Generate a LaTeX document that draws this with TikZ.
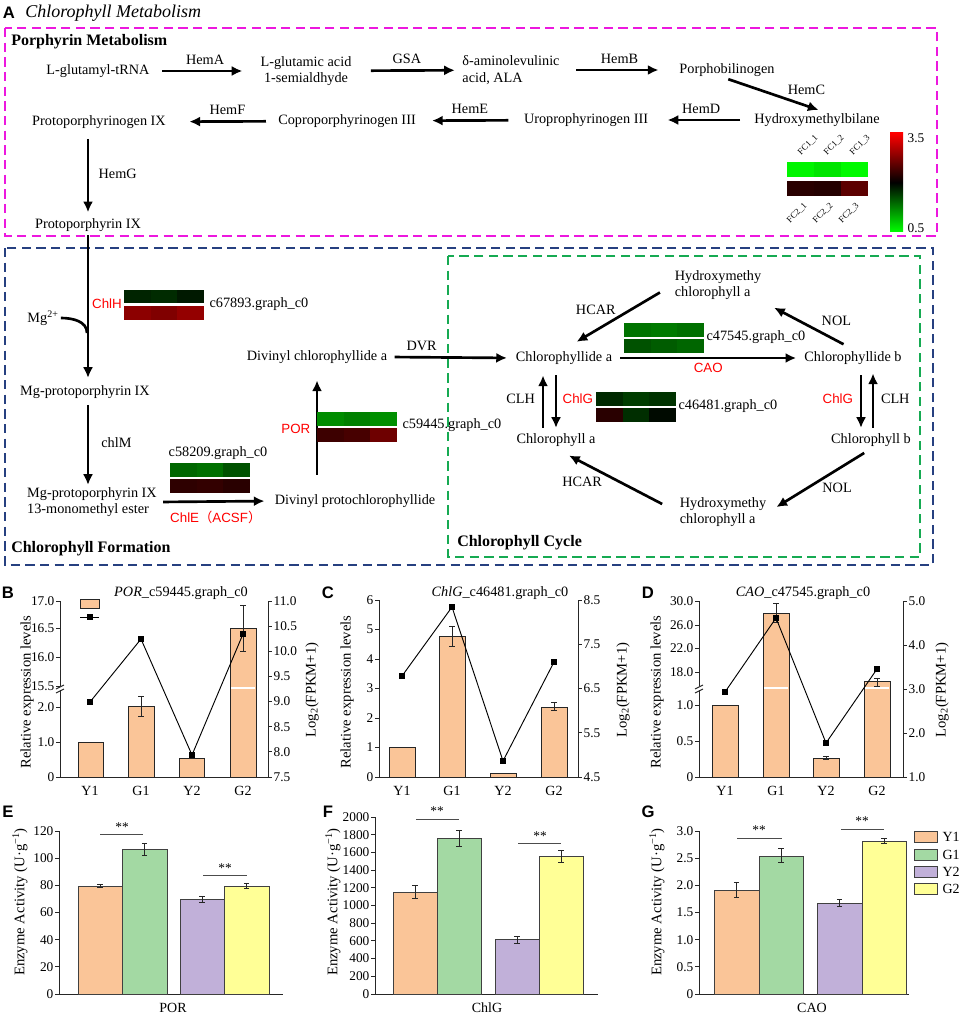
\documentclass[tikz,border=0pt]{standalone}
\usepackage{fontspec}
\setmainfont{Liberation Serif}
\setsansfont{Liberation Sans}
\newfontfamily\cjkfont{Noto Sans CJK SC}
\usepackage{tikz}
\usetikzlibrary{positioning,arrows.meta,calc}

\definecolor{porphyrinmagenta}{RGB}{236,24,222}
\definecolor{formationblue}{RGB}{38,64,128}
\definecolor{cyclegreen}{RGB}{22,170,82}
\definecolor{barorange}{RGB}{250,197,152}
\definecolor{bargreen}{RGB}{163,217,163}
\definecolor{barpurple}{RGB}{193,176,217}
\definecolor{baryellow}{RGB}{255,255,150}

\tikzset{
    compound/.style={font=\fontsize{10.7}{12.5}\selectfont, inner sep=1.5pt},
    enzyme/.style={font=\fontsize{10.7}{12.5}\selectfont, inner sep=1pt},
    red enzyme/.style={font=\sffamily\fontsize{10}{12}\selectfont, text=red, inner sep=1pt},
    gene id/.style={font=\fontsize{10.7}{12.5}\selectfont, inner sep=1pt},
    path arrow/.style={-{Latex[length=8pt,width=7.5pt]}, line width=2pt},
    region box/.style={line width=1.5pt, dash pattern=on 7pt off 4pt},
    region title/.style={font=\bfseries\fontsize{12}{14}\selectfont, anchor=west, inner sep=0pt},
    panel letter/.style={font=\sffamily\bfseries\fontsize{12.5}{14}\selectfont, inner sep=0pt},
    heat label/.style={font=\fontsize{6.6}{7}\selectfont, rotate=45, inner sep=0pt},
    axis line/.style={line width=0.7pt, black!85},
    tick num/.style={font=\fontsize{10}{12}\selectfont, inner sep=1pt},
    group name/.style={font=\fontsize{10.5}{12}\selectfont, inner sep=1pt},
    axis name/.style={font=\fontsize{11}{13}\selectfont, rotate=90, inner sep=0pt},
    chart title/.style={font=\fontsize{10.7}{12.5}\selectfont, inner sep=0pt},
    expr bar/.style={draw=black!85, fill=barorange, line width=0.7pt},
    activity bar/.style={draw=black!75, line width=0.7pt},
    err bar/.style={{Bar[width=4pt]}-{Bar[width=4pt]}, line width=0.6pt, black!85},
    fpkm point/.style={rectangle, fill=black, minimum size=4pt, inner sep=0pt},
    fpkm line/.style={line width=0.7pt},
    sig line/.style={line width=0.6pt, black!70},
    sig stars/.style={font=\fontsize{10}{12}\selectfont, inner sep=0pt}
}

% two rows of three cells, x, y of top left, six colours
\newcommand{\heatmap}[8]{%
    \foreach \hc [count=\hk from 0] in {#3,#4,#5}
        \fill[fill=\hc] ({#1+\hk*26.67},#2) rectangle ++(26.67,13.5);
    \foreach \hc [count=\hk from 0] in {#6,#7,#8}
        \fill[fill=\hc] ({#1+\hk*26.67},{#2+16}) rectangle ++(26.67,13.5);
}

\begin{document}
\begin{tikzpicture}[x=0.75pt, y=-0.75pt]
    \useasboundingbox (0,0) rectangle (970,1023);

    % Panel A header and region boxes
    \node[panel letter] (lblA) at (9,13) {A};
    \node[anchor=west, inner sep=0pt, font=\itshape\fontsize{13.5}{15}\selectfont] (titleA) at (25,13) {Chlorophyll Metabolism};
    \draw[region box, draw=porphyrinmagenta] (5,28) rectangle (937,236);
    \draw[region box, draw=formationblue] (5,248) rectangle (933,565);
    \draw[region box, draw=cyclegreen] (448,256) rectangle (920,557);
    \node[region title] (porTitle) at (11,42) {Porphyrin Metabolism};
    \node[region title] (formTitle) at (11,549) {Chlorophyll Formation};
    \node[region title] (cycTitle) at (457,543) {Chlorophyll Cycle};

    % Porphyrin metabolism
    \node[compound] (glu) at (98,71) {L-glutamyl-tRNA};
    \node[compound, align=center] (gsa) at (306,71) {L-glutamic acid\\1-semialdhyde};
    \node[compound, align=left] (ala) at (511,70) {δ-aminolevulinic\\acid, ALA};
    \node[compound] (pbg) at (727,70) {Porphobilinogen};
    \node[compound] (hmb) at (817,120) {Hydroxymethylbilane};
    \node[compound] (uro) at (586,120) {Uroprophyrinogen III};
    \node[compound] (copro) at (347,121) {Coproporphyrinogen III};
    \node[compound] (protogen) at (99,122) {Protoporphyrinogen IX};
    \node[compound] (proto) at (88,225) {Protoporphyrin IX};

    \draw[path arrow, shorten <=8pt, shorten >=12pt] (glu) -- node[enzyme, above=3pt] {HemA} (gsa);
    \draw[path arrow, shorten <=13pt, shorten >=4pt] (gsa) -- node[enzyme, above=3pt] {GSA} (ala);
    \draw[path arrow, shorten <=11pt, shorten >=14pt] (ala) -- node[enzyme, above=3pt] {HemB} (pbg);
    \draw[path arrow, shorten <=1pt, shorten >=3pt] (pbg.south) -- node[enzyme, pos=0.6, above right=1pt] {HemC} ([xshift=4pt]hmb.north);
    \draw[path arrow, shorten <=9pt, shorten >=13pt] (hmb) -- node[enzyme, above=3pt] {HemD} (uro);
    \draw[path arrow, shorten <=10pt, shorten >=10.5pt] (uro) -- node[enzyme, above=3pt] {HemE} (copro);
    \draw[path arrow, shorten <=7.5pt, shorten >=16pt] (copro) -- node[enzyme, pos=0.45, above=3pt] {HemF} (protogen);
    \draw[path arrow, shorten <=6pt, shorten >=3pt] (protogen.south -| proto.north) -- node[enzyme, right=6pt] {HemG} (proto.north);

    % Heat map legend
    \foreach \hc [count=\hk from 0] in {green!96!black, green!90!black, green!98!black}
        \fill[fill=\hc] ({787+\hk*27},162) rectangle ++(27,15);
    \foreach \hc [count=\hk from 0] in {red!16!black, red!14!black, red!36!black}
        \fill[fill=\hc] ({787+\hk*27},181) rectangle ++(27,15);
    \foreach \lab [count=\hk from 0] in {FC1\_1, FC1\_2, FC1\_3}
        \node[heat label] at ({808+\hk*26},145) {\lab};
    \foreach \lab [count=\hk from 0] in {FC2\_1, FC2\_2, FC2\_3}
        \node[heat label] at ({797+\hk*26},213) {\lab};
    \shade[top color=red, bottom color=green, middle color=black] (890,133) rectangle (903,232);
    \node[tick num, anchor=west] (scaleHi) at (906,138) {3.5};
    \node[tick num, anchor=west] (scaleLo) at (906,228) {0.5};

    % Chlorophyll formation
    \node[compound] (mg) at (43,318) {Mg\textsuperscript{2+}};
    \node[compound] (mgp) at (85,392) {Mg-protoporphyrin IX};
    \node[compound, align=left] (mgme) at (92,502) {Mg-protoporphyrin IX\\13-monomethyl ester};
    \node[compound] (dvp) at (355,501) {Divinyl protochlorophyllide};
    \node[compound] (dvc) at (317,357) {Divinyl chlorophyllide a};
    \coordinate (mgjoin) at (87,333);

    \draw[path arrow, shorten <=1pt, shorten >=4pt] (proto.south) -- (proto.south |- mgp.north);
    \draw[line width=2pt] (mg.east) to[out=0, in=90] (mgjoin);
    \node[red enzyme] (chlH) at (107,304) {ChlH};
    \heatmap{124}{290}{green!14!black}{green!17!black}{green!10!black}{red!55!black}{red!50!black}{red!58!black}
    \node[gene id, anchor=west] (idChlH) at (208,304) {c67893.graph\_c0};

    \draw[path arrow, shorten <=3pt, shorten >=0pt] (mgp.south -| proto.south) -- node[enzyme, right=8pt] {chlM} (proto.south |- mgme.north);

    \draw[path arrow, shorten <=3pt, shorten >=6pt] (mgme.east) -- node[red enzyme, below=5pt] {ChlE{\cjkfont （}ACSF{\cjkfont ）}} (dvp.west);
    \heatmap{170}{463}{green!40!black}{green!44!black}{green!32!black}{red!18!black}{red!20!black}{red!16!black}
    \node[gene id] (idChlE) at (218,453) {c58209.graph\_c0};

    \draw[path arrow, shorten <=13pt, shorten >=11pt] (dvc.south |- dvp.north) -- node[red enzyme, left=3pt] {POR} (dvc.south);
    \heatmap{317}{412}{green!55!black}{green!50!black}{green!56!black}{red!24!black}{red!28!black}{red!43!black}
    \node[gene id, anchor=west] (idPOR) at (401,425) {c59445.graph\_c0};

    % Chlorophyll cycle
    \node[compound] (chlda) at (564,358) {Chlorophyllide a};
    \node[compound] (chldb) at (853,358) {Chlorophyllide b};
    \node[compound] (chla) at (556,440) {Chlorophyll a};
    \node[compound] (chlb) at (871,440) {Chlorophyll b};
    \node[compound, align=left] (hydtop) at (718,285) {Hydroxymethy\\chlorophyll a};
    \node[compound, align=left] (hydbot) at (723,512) {Hydroxymethy\\chlorophyll a};

    \draw[path arrow, shorten <=4pt, shorten >=5pt] (dvc.east) -- node[enzyme, pos=0.26, above=3pt] {DVR} (chlda.west);
    \draw[path arrow, shorten <=4.5pt, shorten >=4.5pt] (chlda) -- node[red enzyme, below=2pt] {CAO} (chldb);
    \heatmap{624}{323}{green!45!black}{green!48!black}{green!44!black}{green!32!black}{green!36!black}{green!40!black}
    \node[gene id, anchor=west] (idCAO) at (705,337) {c47545.graph\_c0};

    \coordinate (clhA) at ([xshift=-9.75pt]chla.north);
    \draw[path arrow, shorten <=2.5pt, shorten >=6.5pt] (clhA) -- node[enzyme, left=4pt] {CLH} (clhA |- chlda.south);
    \draw[path arrow, shorten <=6.5pt, shorten >=2.5pt] (chla.north |- chlda.south) -- node[red enzyme, right=3pt] {ChlG} (chla.north);
    \heatmap{596}{392}{green!16!black}{green!24!black}{green!20!black}{red!16!black}{green!18!black}{green!4!black}
    \node[gene id, anchor=west] (idChlG) at (677,406) {c46481.graph\_c0};

    \coordinate (chlgB) at ([xshift=-7.5pt]chlb.north);
    \coordinate (clhB) at ([xshift=1.5pt]chlb.north);
    \draw[path arrow, shorten <=6.5pt, shorten >=2.5pt] (chlgB |- chldb.south) -- node[red enzyme, left=4pt] {ChlG} (chlgB);
    \draw[path arrow, shorten <=2.5pt, shorten >=5pt] (clhB) -- node[enzyme, right=4pt] {CLH} (clhB |- chldb.south);

    \draw[path arrow, shorten <=11pt, shorten >=11pt] (hydtop.west) -- node[enzyme, above left=0pt] {HCAR} (chlda.north);
    \draw[path arrow, shorten <=8pt, shorten >=9pt] (chldb.north) -- node[enzyme, pos=0.4, above right=2pt] {NOL} (hydtop.south east);
    \draw[path arrow, shorten <=6pt, shorten >=7pt] (chlb.south) -- node[enzyme, below right=0pt] {NOL} (hydbot.east);
    \draw[path arrow, shorten <=13pt, shorten >=11pt] (hydbot.west) -- node[enzyme, pos=0.6, below left=0pt] {HCAR} (chla.south);

    % Panel B
    \node[panel letter] (lblB) at (8,593) {B};
    \node[chart title] (titleB) at (181,593) {\textit{POR}\_c59445.graph\_c0};
    \draw[axis line] (60,601) -- (60,686);
    \draw[axis line] (60,690) -- (60,777) -- (268,777) -- (268,601);
    \draw[axis line] (56,689) -- (64,685) (56,693) -- (64,689);
    \foreach \yy/\lab in {601/17.0, 628/16.5, 657/16.0, 686/15.5, 707/2.0, 742/1.0, 777/0}{
        \draw[axis line] (56,\yy) -- (60,\yy);
        \node[tick num, anchor=east] at (56,\yy) {\lab};
    }
    \foreach \lab [count=\kk from 0] in {11.0,10.5,10.0,9.5,9.0,8.5,8.0,7.5}{
        \draw[axis line] (268,{601+\kk*25.14}) -- (272,{601+\kk*25.14});
        \node[tick num, anchor=west] at (272,{601+\kk*25.14}) {\lab};
    }
    \draw[expr bar] (78,742) rectangle (103,777);
    \draw[expr bar] (128,706) rectangle (154,777);
    \draw[expr bar] (179,758) rectangle (204,777);
    \draw[expr bar] (230,628) rectangle (256,777);
    \draw[white, line width=1.5pt] (231,688) -- (255,688);
    \draw[err bar] (141,696) -- (141,717);
    \draw[err bar] (243,605) -- (243,652);
    \node[fpkm point] (b1) at (90,702) {};
    \node[fpkm point] (b2) at (141,639) {};
    \node[fpkm point] (b3) at (192,755) {};
    \node[fpkm point] (b4) at (243,634) {};
    \draw[fpkm line] (b1) -- (b2) -- (b3) -- (b4);
    \draw[expr bar] (80,599) rectangle (99,608);
    \node[fpkm point] (bleg) at (90,617) {};
    \draw[fpkm line] (80,617) -- (99,617);
    \foreach \xx/\lab in {90/Y1, 141/G1, 192/Y2, 243/G2}
        \node[group name] at (\xx,791) {\lab};
    \node[axis name] (relB) at (27,692) {Relative expression levels};
    \node[axis name] (logB) at (312,690) {Log\textsubscript{2}(FPKM+1)};

    % Panel C
    \node[panel letter] (lblC) at (328,593) {C};
    \node[chart title] (titleC) at (500,593) {\textit{ChlG}\_c46481.graph\_c0};
    \draw[axis line] (379,600) -- (379,777) -- (578,777) -- (578,600);
    \foreach \lab [count=\kk from 0] in {6,5,4,3,2,1,0}{
        \draw[axis line] (375,{600+\kk*29.5}) -- (379,{600+\kk*29.5});
        \node[tick num, anchor=east] at (375,{600+\kk*29.5}) {\lab};
    }
    \foreach \lab [count=\kk from 0] in {8.5,7.5,6.5,5.5,4.5}{
        \draw[axis line] (578,{600+\kk*44.25}) -- (582,{600+\kk*44.25});
        \node[tick num, anchor=west] at (582,{600+\kk*44.25}) {\lab};
    }
    \draw[expr bar] (389,747) rectangle (415,777);
    \draw[expr bar] (439,636) rectangle (465,777);
    \draw[expr bar] (490,773) rectangle (516,777);
    \draw[expr bar] (541,707) rectangle (567,777);
    \draw[err bar] (452,626) -- (452,647);
    \draw[err bar] (554,702) -- (554,711);
    \node[fpkm point] (c1) at (402,676) {};
    \node[fpkm point] (c2) at (452,607) {};
    \node[fpkm point] (c3) at (503,761) {};
    \node[fpkm point] (c4) at (554,662) {};
    \draw[fpkm line] (c1) -- (c2) -- (c3) -- (c4);
    \foreach \xx/\lab in {402/Y1, 452/G1, 503/Y2, 554/G2}
        \node[group name] at (\xx,791) {\lab};
    \node[axis name] (relC) at (347,692) {Relative expression levels};
    \node[axis name] (logC) at (623,690) {Log\textsubscript{2}(FPKM+1)};

    % Panel D
    \node[panel letter] (lblD) at (648,593) {D};
    \node[chart title] (titleD) at (803,593) {\textit{CAO}\_c47545.graph\_c0};
    \draw[axis line] (699,601) -- (699,686);
    \draw[axis line] (699,690) -- (699,777) -- (903,777) -- (903,601);
    \draw[axis line] (695,689) -- (703,685) (695,693) -- (703,689);
    \foreach \yy/\lab in {601/30.0, 625/26.0, 648.5/22.0, 672/18.0, 705/1.0, 741/0.5, 777/0}{
        \draw[axis line] (695,\yy) -- (699,\yy);
        \node[tick num, anchor=east] at (695,\yy) {\lab};
    }
    \foreach \lab [count=\kk from 0] in {5.0,4.0,3.0,2.0,1.0}{
        \draw[axis line] (903,{601+\kk*44}) -- (907,{601+\kk*44});
        \node[tick num, anchor=west] at (907,{601+\kk*44}) {\lab};
    }
    \draw[expr bar] (712,705) rectangle (738,777);
    \draw[expr bar] (763,613) rectangle (789,777);
    \draw[expr bar] (813,758) rectangle (839,777);
    \draw[expr bar] (864,681) rectangle (890,777);
    \draw[white, line width=1.5pt] (764,688) -- (788,688) (865,688) -- (889,688);
    \draw[err bar] (776,603) -- (776,623);
    \draw[err bar] (826,756) -- (826,760);
    \draw[err bar] (877,678) -- (877,687);
    \node[fpkm point] (d1) at (725,692) {};
    \node[fpkm point] (d2) at (776,618) {};
    \node[fpkm point] (d3) at (826,743) {};
    \node[fpkm point] (d4) at (877,669) {};
    \draw[fpkm line] (d1) -- (d2) -- (d3) -- (d4);
    \foreach \xx/\lab in {725/Y1, 776/G1, 826/Y2, 877/G2}
        \node[group name] at (\xx,791) {\lab};
    \node[axis name] (relD) at (657,692) {Relative expression levels};
    \node[axis name] (logD) at (942,690) {Log\textsubscript{2}(FPKM+1)};

    % Panel E
    \node[panel letter] (lblE) at (8,812) {E};
    \draw[axis line] (59,831) -- (59,994) -- (283,994);
    \foreach \vv in {0,20,...,120}{
        \draw[axis line] (55,{994-\vv*1.3583}) -- (59,{994-\vv*1.3583});
        \node[tick num, anchor=east] at (55,{994-\vv*1.3583}) {\vv};
    }
    \draw[activity bar, fill=barorange] (78,886) rectangle (122,994);
    \draw[activity bar, fill=bargreen] (122,849) rectangle (167,994);
    \draw[activity bar, fill=barpurple] (180,899) rectangle (224,994);
    \draw[activity bar, fill=baryellow] (224,886) rectangle (269,994);
    \draw[err bar] (100,884) -- (100,888);
    \draw[err bar] (144.5,843) -- (144.5,856);
    \draw[err bar] (202,896) -- (202,903);
    \draw[err bar] (246.5,883) -- (246.5,889);
    \draw[sig line] (100,834) -- (143,834);
    \node[sig stars] at (122,827) {**};
    \draw[sig line] (203,875) -- (247,875);
    \node[sig stars] at (225,868) {**};
    \node[group name] (porE) at (173,1008) {POR};
    \node[axis name] (actE) at (20,902) {Enzyme Activity (U·g\textsuperscript{−1})};

    % Panel F
    \node[panel letter] (lblF) at (328,812) {F};
    \draw[axis line] (375,817) -- (375,994) -- (598,994);
    \foreach \vv in {0,200,...,2000}{
        \draw[axis line] (371,{994-\vv*0.0885}) -- (375,{994-\vv*0.0885});
        \node[tick num, anchor=east] at (371,{994-\vv*0.0885}) {\vv};
    }
    \draw[activity bar, fill=barorange] (393,892) rectangle (437,994);
    \draw[activity bar, fill=bargreen] (437,838) rectangle (481,994);
    \draw[activity bar, fill=barpurple] (495,939) rectangle (539,994);
    \draw[activity bar, fill=baryellow] (539,856) rectangle (583,994);
    \draw[err bar] (415,885) -- (415,899);
    \draw[err bar] (459,830) -- (459,847);
    \draw[err bar] (517,936) -- (517,944);
    \draw[err bar] (561,850) -- (561,863);
    \draw[sig line] (416,819) -- (459,819);
    \node[sig stars] at (437,811) {**};
    \draw[sig line] (518,843) -- (561,843);
    \node[sig stars] at (540,836) {**};
    \node[group name] (chlgF) at (487,1008) {ChlG};
    \node[axis name] (actF) at (333,902) {Enzyme Activity (U·g\textsuperscript{−1})};

    % Panel G
    \node[panel letter] (lblG) at (648,812) {G};
    \draw[axis line] (699,831) -- (699,994) -- (909,994);
    \foreach \vv/\lab in {0/0, 0.5/0.5, 1/1.0, 1.5/1.5, 2/2.0, 2.5/2.5, 3/3.0}{
        \draw[axis line] (695,{994-\vv*54.33}) -- (699,{994-\vv*54.33});
        \node[tick num, anchor=east] at (695,{994-\vv*54.33}) {\lab};
    }
    \draw[activity bar, fill=barorange] (714,890) rectangle (759,994);
    \draw[activity bar, fill=bargreen] (759,856) rectangle (803,994);
    \draw[activity bar, fill=barpurple] (817,903) rectangle (862,994);
    \draw[activity bar, fill=baryellow] (862,841) rectangle (906,994);
    \draw[err bar] (736.5,882) -- (736.5,898);
    \draw[err bar] (781,848) -- (781,863);
    \draw[err bar] (839.5,899) -- (839.5,907);
    \draw[err bar] (884,838) -- (884,844);
    \draw[sig line] (737,838) -- (782,838);
    \node[sig stars] at (759,830) {**};
    \draw[sig line] (841,829) -- (884,829);
    \node[sig stars] at (862,821) {**};
    \node[group name] (caoG) at (812,1008) {CAO};
    \node[axis name] (actG) at (657,902) {Enzyme Activity (U·g\textsuperscript{−1})};

    % Legend for E-G
    \foreach \bc/\lab [count=\kk] in {barorange/Y1, bargreen/G1, barpurple/Y2, baryellow/G2}{
        \draw[activity bar, fill=\bc] (914,{814.5+\kk*17.3}) rectangle ++(23,11);
        \node[group name, anchor=west] at (941,{820+\kk*17.3}) {\lab};
    }
\end{tikzpicture}
\end{document}
